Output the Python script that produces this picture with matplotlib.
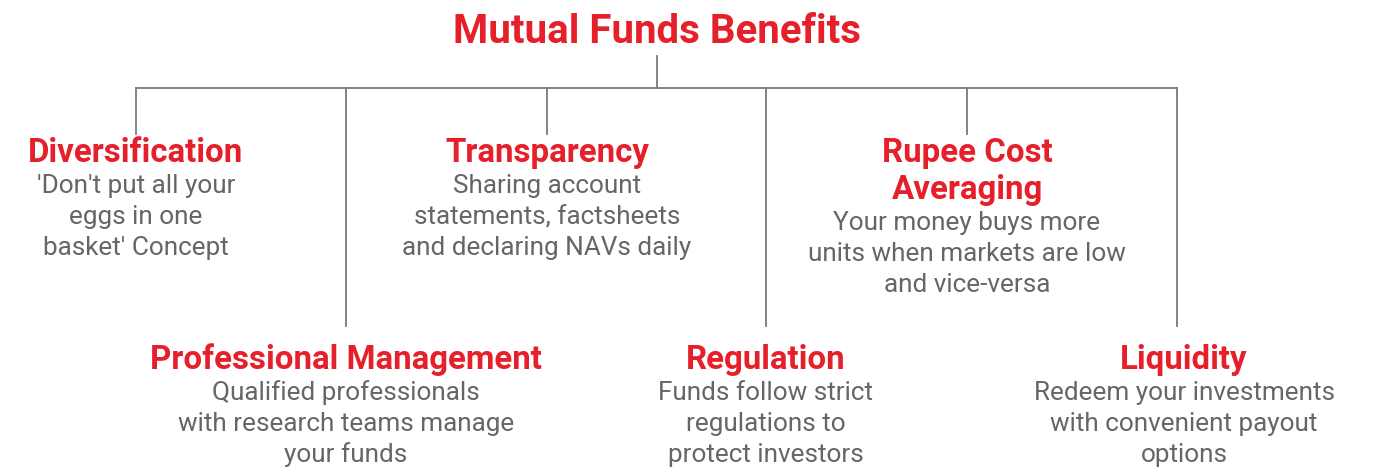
import matplotlib
matplotlib.use('Agg')
import matplotlib.pyplot as plt

# node data
titles = ['Diversification', 'Professional Management', 'Transparency',
          'Regulation', 'Rupee Cost\nAveraging', 'Liquidity']
descs = [
    ["'Don't put all your", 'eggs in one', "basket' Concept"],
    ['Qualified professionals', 'with research teams manage', 'your funds'],
    ['Sharing account', 'statements, factsheets', 'and declaring NAVs daily'],
    ['Funds follow strict', 'regulations to', 'protect investors'],
    ['Your money buys more', 'units when markets are low', 'and vice-versa'],
    ['Redeem your investments', 'with convenient payout', 'options'],
]
# layout (pixel space)
node_x = [136, 346, 547, 766, 967, 1177]
text_x = [136, 346, 547, 766, 967, 1184]
is_low = [False, True, False, True, False, True]

RED = '#E6202A'
GRAY = '#666666'
LINE = '#7a7a7a'

plt.rcParams['font.family'] = ['Roboto', 'DejaVu Sans']

fig = plt.figure(figsize=(13.73, 4.73), dpi=100)
ax = fig.add_axes([0, 0, 1, 1])
ax.set_xlim(0, 1373)
ax.set_ylim(473, 0)
ax.axis('off')

# title
ax.text(657, 43, 'Mutual Funds Benefits', color=RED, fontsize=29,
        fontweight='bold', ha='center', va='baseline')

# connectors
bar_y = 88
ax.plot([657, 657], [56, bar_y], color=LINE, lw=1.3)
ax.plot([node_x[0], node_x[-1]], [bar_y, bar_y], color=LINE, lw=1.3)

for i in range(len(titles)):
    x = node_x[i]
    tx = text_x[i]
    if is_low[i]:
        end_y = 326
        head_base = 369
    else:
        end_y = 134
        head_base = 162
    ax.plot([x, x], [bar_y, end_y], color=LINE, lw=1.3)

    lines = titles[i].split('\n')
    y = head_base
    for ln in lines:
        ax.text(tx, y, ln, color=RED, fontsize=23.8, fontweight='bold',
                ha='center', va='baseline')
        y += 37
    y = y - 37 + 31
    for ln in descs[i]:
        ax.text(tx, y, ln, color=GRAY, fontsize=18.8, ha='center', va='baseline')
        y += 31

fig.savefig('out.png', dpi=100, facecolor='white')
